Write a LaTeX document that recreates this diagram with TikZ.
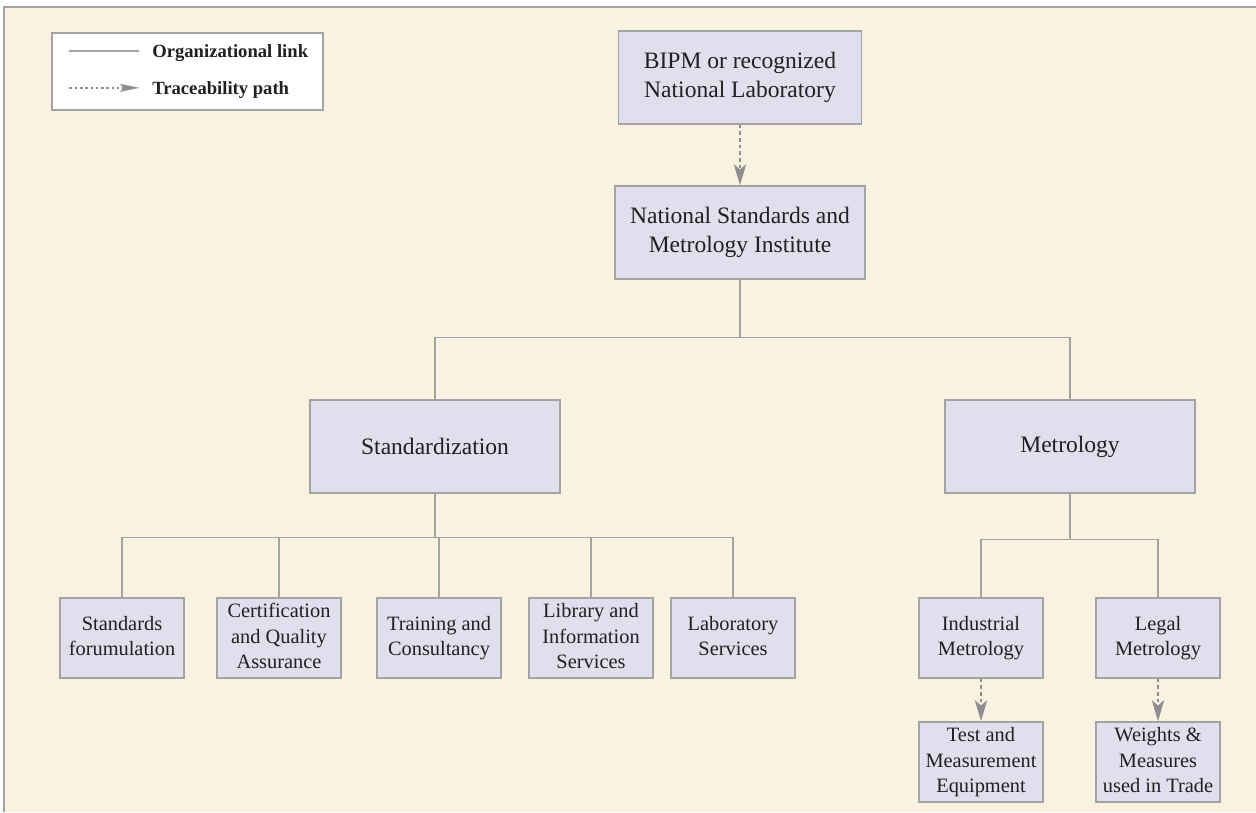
\documentclass[tikz,border=0pt]{standalone}
\usepackage{fontspec}
\newfontfamily\chartfont{Liberation Serif}[Ligatures={NoCommon}]
\usetikzlibrary{arrows.meta,positioning}
\definecolor{paper}{HTML}{FAF2E1}
\definecolor{lav}{HTML}{DFDFEE}
\definecolor{rule}{HTML}{A3A3A3}
\definecolor{tip}{HTML}{8E8E93}
\definecolor{ink}{HTML}{231F20}
\newcommand\stack[1]{\begin{tabular}{@{}c@{}}#1\end{tabular}}

\begin{document}
\begin{tikzpicture}[x=0.02cm,y=-0.02cm,
    unit/.style={draw=rule,fill=lav,line width=0.8pt,text=ink,
                 inner sep=0pt,minimum width=5cm,minimum height=1.86cm,
                 font=\chartfont\fontsize{13.4}{16.5}\selectfont},
    leaf/.style={unit,minimum width=2.48cm,minimum height=1.6cm,
                 font=\chartfont\fontsize{11.6}{14.6}\selectfont},
    keytext/.style={anchor=base west,inner sep=0pt,text=ink,
                    font=\chartfont\bfseries\fontsize{10.6}{12}\selectfont},
    orglink/.style={draw=rule,line width=0.8pt},
    trace/.style={draw=tip,line width=0.8pt,dash pattern=on 2pt off 1.8pt,
                  -{Stealth[length=12pt,width=7pt,inset=3pt]}}]
  \useasboundingbox (0,0) rectangle (1256,812);
  \fill[paper] (4,7) rectangle (1256,812);
  \draw[rule,line width=1pt] (4,812) -- (4,7) -- (1256,7);

  % top of the tree
  \node[unit,minimum width=4.86cm] (bipm) at (740,77.5) {\stack{BIPM or recognized\\National Laboratory}};
  \node[unit] (nsmi) at (740,232.5) {\stack{National Standards and\\Metrology Institute}};
  \node[unit] (std) at (435,446.5) {Standardization};
  \node[unit] (met) at (1070,446.5) {Metrology};

  % standardization branch
  \node[leaf] (sf)  at (122,638) {\stack{Standards\\forumulation}};
  \node[leaf] (cqa) at (279,638) {\stack{Certification\\and Quality\\Assurance}};
  \node[leaf] (tc)  at (439,638) {\stack{Training and\\Consultancy}};
  \node[leaf] (lis) at (591,638) {\stack{Library and\\Information\\Services}};
  \node[leaf] (ls)  at (733,638) {\stack{Laboratory\\Services}};

  % metrology branch
  \node[leaf] (ind) at (981,638) {\stack{Industrial\\Metrology}};
  \node[leaf] (leg) at (1158,638) {\stack{Legal\\Metrology}};
  \node[leaf] (tme) at (981,762) {\stack{Test and\\Measurement\\Equipment}};
  \node[leaf] (wm)  at (1158,762) {\stack{Weights \&\\Measures\\used in Trade}};

  \draw[trace] (bipm) -- (nsmi);
  \draw[orglink] (nsmi.south) -- ++(0,58) coordinate (hub);
  \draw[orglink] (std.north) |- (hub) -| (met.north);
  \draw[orglink] (std.south) -- ++(0,44) coordinate (stdbus);
  \foreach \c in {sf,cqa,tc,lis,ls}
    \draw[orglink] (stdbus) -| (\c.north);
  \draw[orglink] (met.south) -- ++(0,46) coordinate (metbus);
  \foreach \c in {ind,leg}
    \draw[orglink] (metbus) -| (\c.north);
  \draw[trace] (ind) -- (tme);
  \draw[trace] (leg) -- (wm);

  % legend
  \node[draw=rule,fill=white,line width=0.8pt,minimum width=5.42cm,
        minimum height=1.54cm,inner sep=0pt] (key) at (187.5,71.5) {};
  \node[keytext] (orgtxt) at (152,57) {Organizational link};
  \node[keytext] (trtxt) at (152,94) {Traceability path};
  \draw[orglink] ([xshift=-47pt,yshift=3.5pt]orgtxt.base west) -- ++(70,0);
  \draw[trace,dash pattern=on 1.5pt off 1.5pt,
        -{Stealth[length=11pt,width=4.5pt,inset=2pt]}]
        ([xshift=-47pt,yshift=3.5pt]trtxt.base west) -- ++(70,0);
\end{tikzpicture}
\end{document}
